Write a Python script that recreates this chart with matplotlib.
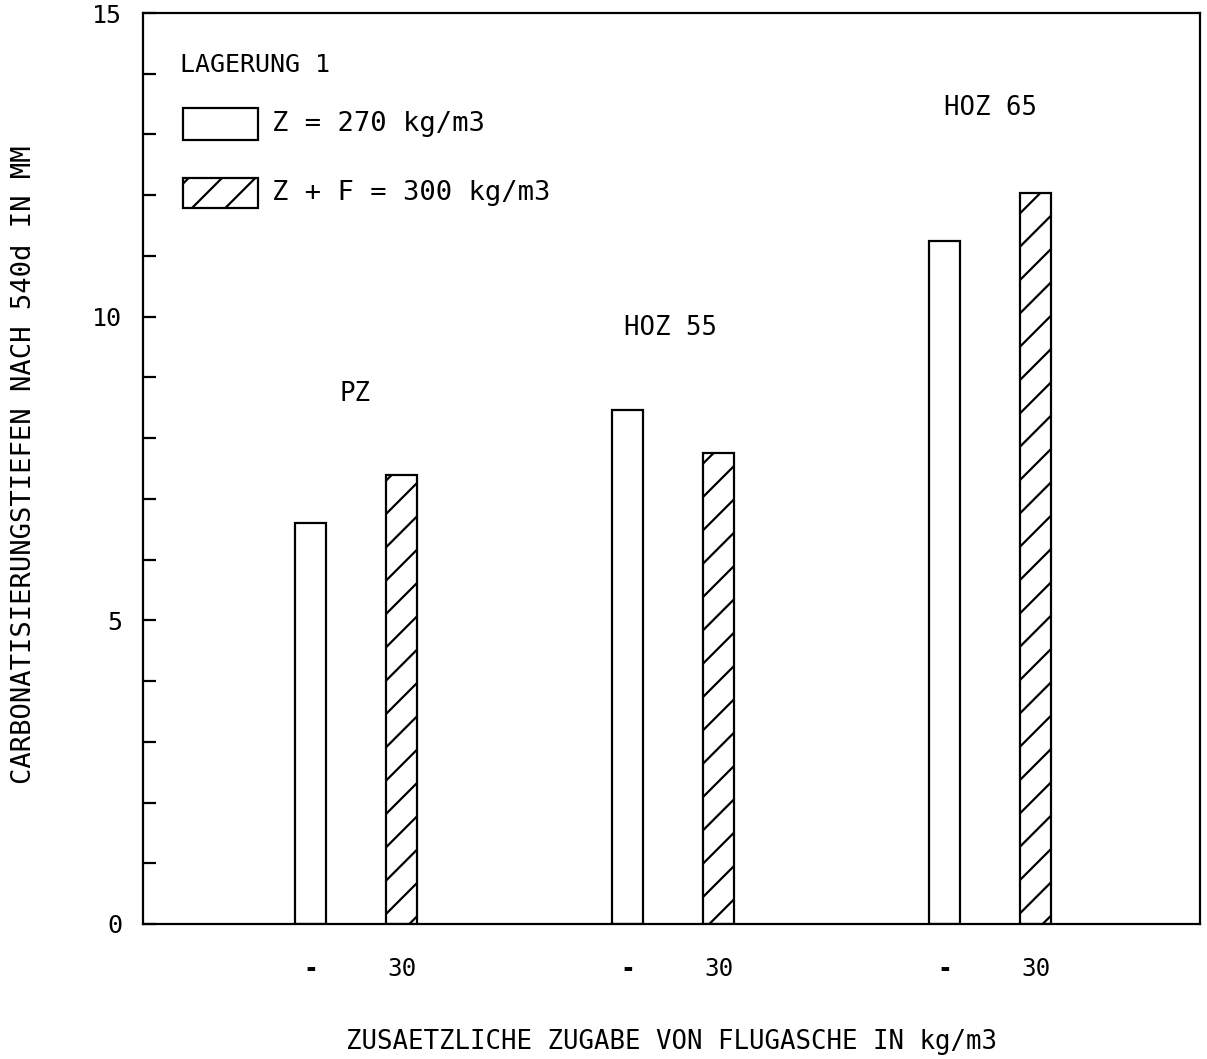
import numpy as np
import matplotlib.pyplot as plt
from matplotlib.patches import Rectangle
from matplotlib.ticker import MultipleLocator

# Carbonatisierungstiefen nach 540 d, Lagerung 1
gruppen = ['PZ', 'HOZ 55', 'HOZ 65']
ohne_fa = [6.61, 8.46, 11.25]   # Z = 270 kg/m3
mit_fa = [7.39, 7.75, 12.04]    # Z + F = 300 kg/m3
xlabels = ['-', '30']

plt.rcParams['font.family'] = 'DejaVu Sans Mono'
plt.rcParams['hatch.linewidth'] = 1.6

fig = plt.figure(figsize=(12.07, 10.59), dpi=100)
ax = fig.add_axes([0.1185, 0.1275, 0.8757, 0.8602])

x = np.arange(len(gruppen))
off = 0.1435
w = 0.098
ax.bar(x - off, ohne_fa, w, facecolor='white', edgecolor='black', linewidth=1.6)
ax.bar(x + off, mit_fa, w, facecolor='white', edgecolor='black', linewidth=1.6, hatch='/')

# Gruppenbeschriftung ueber den Balken
lab_x = [-0.005, 0.99, 2.0]
lab_y = [8.73, 9.81, 13.44]
for xx, g, yy in zip(lab_x, gruppen, lab_y):
    ax.text(xx, yy, g, ha='center', va='center', fontsize=18.5)

ax.set_xlim(-0.673, 2.661)
ax.set_ylim(0, 15)
ax.set_xticks(np.concatenate([x - off, x + off]))
ax.set_xticklabels([xlabels[0]] * 3 + [xlabels[1]] * 3, fontsize=17.5)
for t in ax.get_xticklabels()[:3]:
    t.set_fontweight('bold')
ax.tick_params(axis='x', length=0, pad=24)
ax.yaxis.set_major_locator(MultipleLocator(5))
ax.yaxis.set_minor_locator(MultipleLocator(1))
ax.tick_params(axis='y', which='both', direction='in', length=9, width=1.6, labelsize=18, pad=15)
for s in ax.spines.values():
    s.set_linewidth(1.6)

ax.set_xlabel('ZUSAETZLICHE ZUGABE VON FLUGASCHE IN kg/m3', fontsize=18.5, labelpad=34)
ax.set_ylabel('CARBONATISIERUNGSTIEFEN NACH 540d IN MM', fontsize=19.5, va='center')
ax.yaxis.set_label_coords(-0.113, 0.504)

# Legende
ax.text(0.035, 0.943, 'LAGERUNG 1', transform=ax.transAxes, ha='left', va='center', fontsize=18)
ax.add_patch(Rectangle((0.0378, 0.8606), 0.071, 0.0351, transform=ax.transAxes,
                       facecolor='white', edgecolor='black', linewidth=1.6))
ax.add_patch(Rectangle((0.0378, 0.786), 0.071, 0.0329, transform=ax.transAxes,
                       facecolor='white', edgecolor='black', linewidth=1.6, hatch='/'))
ax.text(0.122, 0.878, 'Z = 270 kg/m3', transform=ax.transAxes, ha='left', va='center', fontsize=19.5)
ax.text(0.122, 0.8024, 'Z + F = 300 kg/m3', transform=ax.transAxes, ha='left', va='center', fontsize=19.5)

fig.savefig('out.png', dpi=100)
